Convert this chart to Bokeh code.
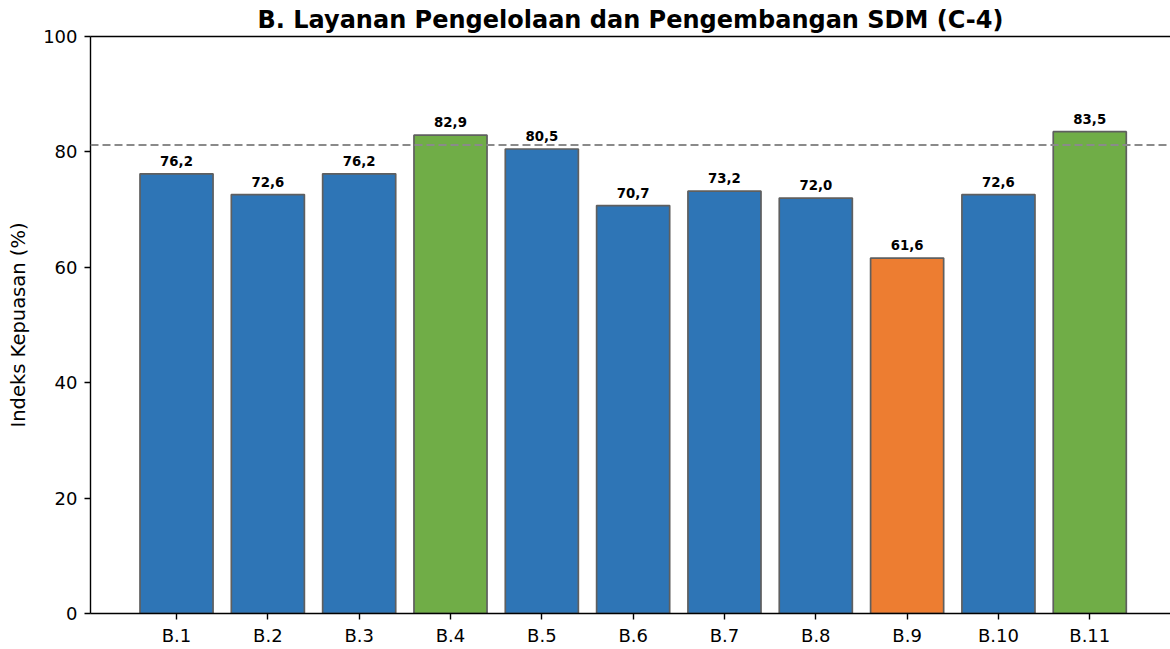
from bokeh.plotting import figure
from bokeh.models import FixedTicker, LinearAxis, Span, ColumnDataSource, Range1d, LabelSet
from bokeh.core.properties import value
from bokeh.embed import file_html
from bokeh.resources import INLINE

categories = ["B.1", "B.2", "B.3", "B.4", "B.5", "B.6", "B.7", "B.8", "B.9", "B.10", "B.11"]
values = [76.2, 72.6, 76.2, 82.9, 80.5, 70.7, 73.2, 72.0, 61.6, 72.6, 83.5]
bar_colors = ["#2E75B6", "#2E75B6", "#2E75B6", "#70AD47", "#2E75B6", "#2E75B6",
              "#2E75B6", "#2E75B6", "#ED7D31", "#2E75B6", "#70AD47"]
threshold = 81.2
y_ticks = [0, 20, 40, 60, 80, 100]

xs = list(range(len(categories)))
labels = [f"{v:.1f}".replace(".", ",") for v in values]
src = ColumnDataSource(dict(x=xs, top=values, color=bar_colors, label=labels))

FONT = "DejaVu Sans"

p = figure(width=1170, height=649, output_backend="svg", toolbar_location=None,
           x_range=Range1d(-0.942, 10.884), y_range=Range1d(0, 100),
           frame_width=1080, frame_height=577,
           title="B. Layanan Pengelolaan dan Pengembangan SDM (C-4)")
p.min_border_left = 90
p.min_border_right = 0
p.min_border_top = 36
p.min_border_bottom = 36
p.outline_line_color = None
p.xgrid.visible = False
p.ygrid.visible = False

p.title.align = "center"
p.title.text_font = FONT
p.title.text_font_size = "24px"
p.title.text_font_style = "bold"
p.title.text_color = "black"
p.title.standoff = 5

p.vbar(x="x", top="top", width=0.8, bottom=0, source=src, fill_color="color",
       line_color="#5f5f5f", line_width=1.7)

p.add_layout(Span(location=threshold, dimension="width", line_color="#8a8a8a",
                  line_dash="8 4", line_width=2))

p.add_layout(LabelSet(x="x", y="top", text="label", source=src, text_align="center",
                      text_baseline="bottom", y_offset=8, text_font=value(FONT),
                      text_font_size=value("13.3px"), text_font_style=value("bold"),
                      text_color=value("black")))

xa = p.xaxis[0]
xa.ticker = FixedTicker(ticks=xs)
xa.major_label_overrides = {i: c for i, c in enumerate(categories)}
ya = p.yaxis[0]
ya.ticker = FixedTicker(ticks=y_ticks)
ya.axis_label = "Indeks Kepuasan (%)"
for ax in (xa, ya):
    ax.major_label_text_font = FONT
    ax.major_label_text_font_size = "18px"
    ax.major_label_text_color = "black"
    ax.axis_line_color = "black"
    ax.axis_line_width = 1.4
    ax.major_tick_line_color = "black"
    ax.major_tick_line_width = 1.4
    ax.major_tick_in = 0
    ax.major_tick_out = 6
    ax.minor_tick_line_color = None
    ax.major_label_standoff = 5
ya.major_label_standoff = 7
ya.axis_label_text_font = FONT
ya.axis_label_text_font_size = "19.5px"
ya.axis_label_text_font_style = "normal"
ya.axis_label_text_color = "black"
ya.axis_label_standoff = 10

top_ax = LinearAxis(ticker=FixedTicker(ticks=[]), axis_line_color="black", axis_line_width=1.4,
                    major_tick_line_color=None, minor_tick_line_color=None,
                    major_label_text_font_size="0px", major_label_standoff=0)
p.add_layout(top_ax, "above")

open("out.html", "w").write(file_html(p, INLINE))
